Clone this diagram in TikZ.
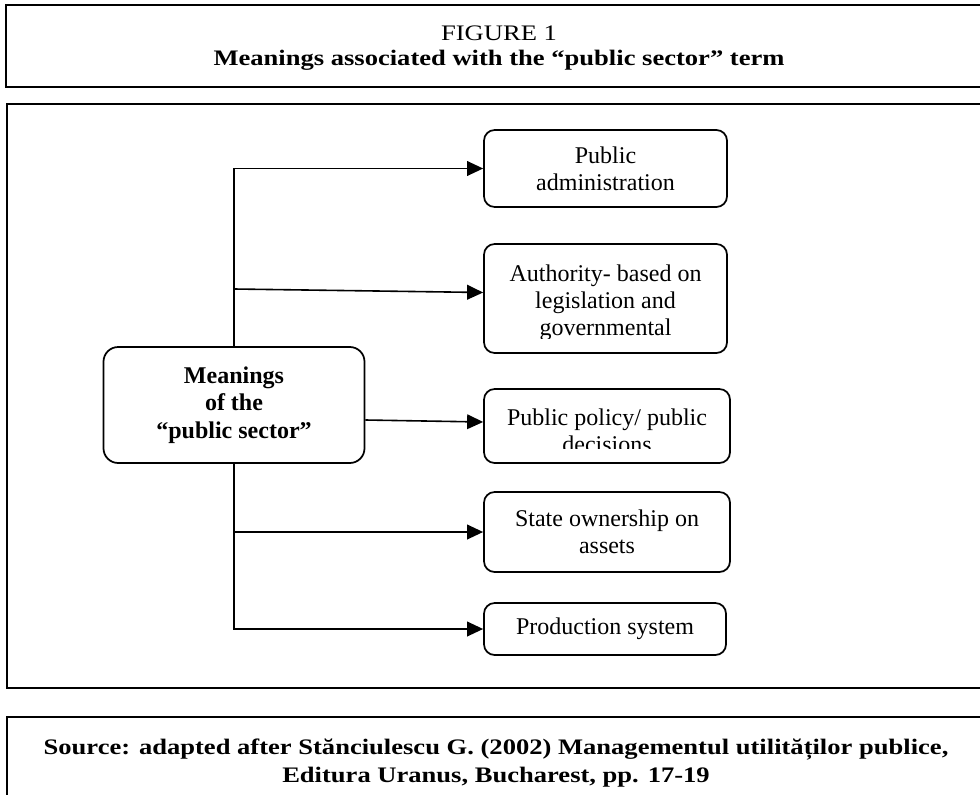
\documentclass[tikz,border=0pt]{standalone}
\usepackage{fontspec}
\setmainfont{Liberation Serif}
\newfontfamily\headfont[FakeStretch=1.2]{Liberation Serif}
\usetikzlibrary{arrows.meta,positioning}

\tikzset{
  leaf/.style={draw, line width=1.3pt, rounded corners=8pt, align=center, inner sep=0pt,
    font=\fontsize{18}{20.25}\selectfont},
  hubbox/.style={leaf, rounded corners=11pt, font=\bfseries\fontsize{18}{20.5}\selectfont},
  cut/.style={path picture={
    \clip (path picture bounding box.north west)
      rectangle ([yshift=11.25pt]path picture bounding box.south east);
    \node[align=center, inner sep=0pt, font=\fontsize{18}{20.25}\selectfont]
      at ([yshift=-3.5pt]path picture bounding box.center) {#1};}},
  link/.style={line width=1.2pt, -{Triangle[length=12pt,width=11pt]}},
  frame/.style={line width=1.5pt}
}

\begin{document}
\begin{tikzpicture}[x=0.75pt, y=-0.75pt]
\useasboundingbox (0,0) rectangle (980,795);

% Heading
\draw[frame] (980,5) -| (6,87) -- (980,87);
\node[font=\headfont\fontsize{16.6}{18.75}\selectfont, align=center, inner sep=0pt] (heading) at (499,48)
  {FIGURE 1\\\textbf{Meanings associated with the “public sector” term}};

% Figure frame
\draw[frame] (980,104) -| (7,688) -- (980,688);

% Meanings
\node[hubbox, minimum width=195.75pt, minimum height=87pt] (hub) at (234,405)
  {Meanings\\of the\\“public sector”};
\node[leaf, minimum width=182.25pt, minimum height=57.75pt] (admin) at (605.5,168.5)
  {Public\\administration};
\node[leaf, minimum width=182.25pt, minimum height=81.75pt,
  cut={Authority- based on\\legislation and\\governmental}] (auth) at (605.5,298.5) {};
\node[leaf, minimum width=184.5pt, minimum height=55.5pt,
  cut={Public policy/ public\\decisions}] (policy) at (607,426) {};
\node[leaf, minimum width=184.5pt, minimum height=60pt] (owner) at (607,532)
  {State ownership on\\assets};
\node[leaf, minimum width=181.5pt, minimum height=39pt] (prod) at (605,629)
  {Production system};

% Connectors
\coordinate (fork) at (hub.north |- 0,289);
\draw[link] (hub.north) |- (admin.west);
\draw[link] (fork) -- ([yshift=4.5pt]auth.west);
\draw[link] ([yshift=-11.25pt]hub.east) -- ([yshift=3pt]policy.west);
\draw[link] (hub.south) |- (owner.west);
\draw[link] (hub.south) |- (prod.west);

% Source
\draw[frame] (980,717) -| (7,795);
\node[font=\headfont\bfseries\fontsize{16.6}{20.5}\selectfont, align=center, inner sep=0pt] (source) at (496,763)
  {Source: adapted after Stănciulescu G. (2002) Managementul utilităților publice,\\Editura Uranus, Bucharest, pp. 17-19};
\end{tikzpicture}
\end{document}
